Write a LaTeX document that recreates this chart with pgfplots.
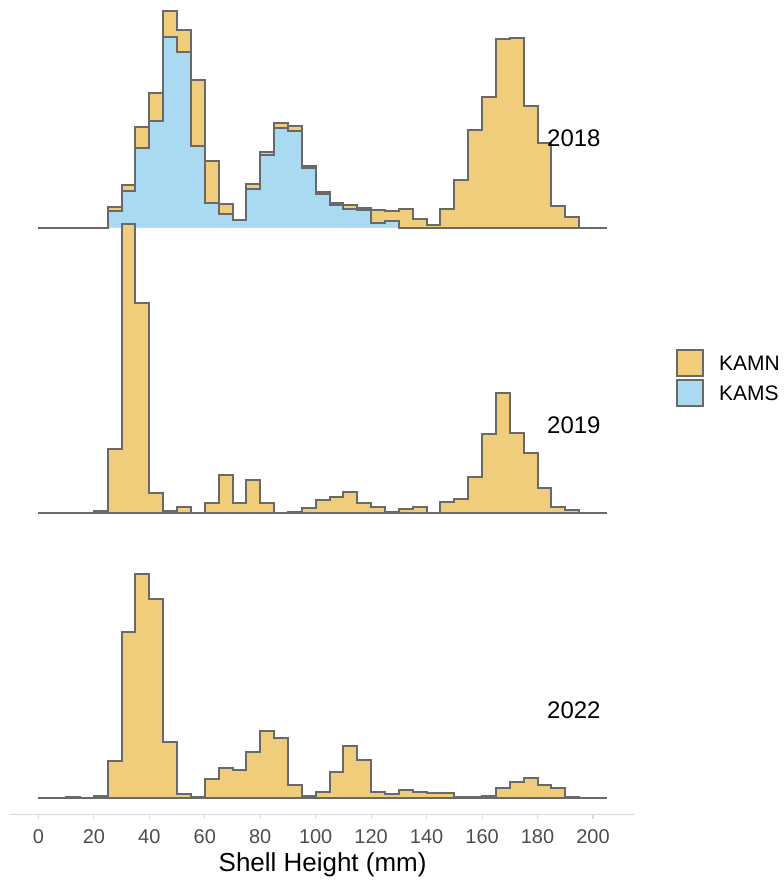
\documentclass[border=0pt]{standalone}
\usepackage{pgfplots}
\usepackage{pgfplotstable}
\usepackage{fontspec}
\setmainfont{Liberation Sans}
\pgfplotsset{compat=1.18}
\usetikzlibrary{calc}

\definecolor{kamn}{RGB}{240,205,122}
\definecolor{kams}{RGB}{170,218,242}
\definecolor{edge}{RGB}{105,105,105}
\definecolor{ticktxt}{RGB}{77,77,77}
\definecolor{axln}{RGB}{217,217,217}

% left bin edge, bar heights (same units as the axis)
\pgfplotstableread{
x kamn kams
0 0 0
5 0 0
10 0 0
15 0 0
20 0 0
25 21 16.3
30 42.3 36.7
35 100.7 80
40 134.7 106.7
45 217.3 191
50 198.3 176
55 148.3 81.7
60 66.7 25
65 24 14
70 8 8
75 44 39
80 75.7 72.7
85 105 100
90 102.3 97.3
95 61.7 59.3
100 35.7 33.7
105 25 22.7
110 22.3 18.3
115 20 17.7
120 17.3 5
125 17 6.7
130 18.3 0
135 8.3 0
140 2.3 0
145 18.3 0
150 47.3 0
155 98.3 0
160 130.7 0
165 189 0
170 190.3 0
175 121.7 0
180 85 0
185 21.7 0
190 11 0
195 0 0
200 0 0
205 0 0
}\yrA

\pgfplotstableread{
x kamn
0 0
5 0
10 0
15 0
20 1.7
25 64
30 289
35 210
40 19.7
45 2.3
50 6.3
55 0
60 10
65 38
70 10
75 33.3
80 10
85 0
90 1.3
95 5
100 13
105 16.3
110 21.3
115 9.7
120 5.7
125 1.3
130 4
135 5.7
140 0.5
145 10.7
150 14
155 35.7
160 79
165 120
170 80
175 60
180 24.7
185 6.3
190 3
195 0
200 0
205 0
}\yrB

\pgfplotstableread{
x kamn
0 0
5 0
10 1
15 0
20 2
25 37.7
30 166.7
35 225
40 200
45 56.3
50 4
55 1.7
60 19.3
65 30
70 28.7
75 46.7
80 67.3
85 60.3
90 13.3
95 2.3
100 6
105 26.7
110 52.3
115 38.3
120 6.3
125 4.7
130 8.3
135 6.3
140 5
145 5
150 1.7
155 1.7
160 2
165 10
170 16
175 20.7
180 13
185 10
190 1.7
195 0
200 0
205 0
}\yrC

\begin{document}
\begin{tikzpicture}
\begin{axis}[
  name=ax,
  width=469.5pt, height=611.25pt,
  scale only axis,
  xmin=-10.25, xmax=215.25,
  ymin=0, ymax=815,
  axis x line=bottom,
  axis y line=none,
  x axis line style={-, draw=axln, line width=0.8pt},
  xtick={0,20,...,200},
  tick align=outside,
  major tick length=3.75pt,
  x tick style={draw=axln, line width=0.8pt},
  xticklabel style={font=\fontsize{15}{18}\selectfont, text=ticktxt, yshift=-4pt},
  /pgf/number format/assume math mode=true,
  xlabel={Shell Height (mm)},
  xlabel style={font=\fontsize{19.5}{23}\selectfont},
  clip=false,
  every axis plot/.append style={const plot mark left, line width=1.5pt, draw=edge, line join=miter},
  legend style={draw=none, fill=none, at={(1.0655,0.572)}, anchor=north west,
    font=\fontsize{15.75}{19}\selectfont, inner sep=0pt, row sep=1.5pt},
  legend cell align=left,
  legend image code/.code={
    \draw[#1, line width=1.5pt] (0pt,-8.5pt) rectangle (19.5pt,11pt);
    \path (0pt,0pt) (28.5pt,0pt);
  },
]
% 2018
\addplot[fill=kamn, forget plot] table[x=x, y expr=\thisrow{kamn}+587] {\yrA};
\addplot[fill=kams, forget plot] table[x=x, y expr=\thisrow{kams}+587] {\yrA};
% 2019
\addplot[fill=kamn, forget plot] table[x=x, y expr=\thisrow{kamn}+301.3] {\yrB};
\addplot[forget plot] coordinates {(0,301.3) (205,301.3)};
% 2022
\addplot[fill=kamn, forget plot] table[x=x, y expr=\thisrow{kamn}+15.7] {\yrC};
\addplot[forget plot] coordinates {(0,15.7) (205,15.7)};

\node[anchor=west, font=\fontsize{18}{21}\selectfont] at (axis cs:181.8,677) {2018};
\node[anchor=west, font=\fontsize{18}{21}\selectfont] at (axis cs:181.8,389.5) {2019};
\node[anchor=west, font=\fontsize{18}{21}\selectfont] at (axis cs:181.8,104) {2022};

\addlegendimage{fill=kamn, draw=edge}
\addlegendentry{KAMN}
\addlegendimage{fill=kams, draw=edge}
\addlegendentry{KAMS}
\end{axis}
\useasboundingbox ($(ax.south west)+(-7.5pt,-49.5pt)$) rectangle ($(ax.south west)+(580.5pt,611.25pt)$);
\end{tikzpicture}
\end{document}
